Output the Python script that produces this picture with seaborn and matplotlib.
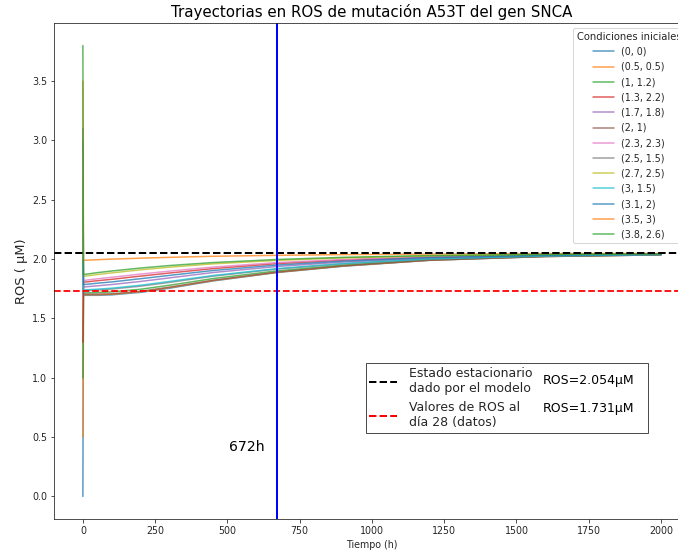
import numpy as np
import pandas as pd
import matplotlib
matplotlib.use("Agg")
import matplotlib.pyplot as plt
from matplotlib.lines import Line2D
import seaborn as sns

# Time grid of the simulated trajectories (hours)
tiempo = [0, 2, 50, 100, 200, 300, 450, 672, 900, 1200, 1600, 2000]

# Initial conditions (legend labels)
condiciones = ["(0, 0)", "(0.5, 0.5)", "(1, 1.2)", "(1.3, 2.2)", "(1.7, 1.8)", "(2, 1)",
               "(2.3, 2.3)", "(2.5, 1.5)", "(2.7, 2.5)", "(3, 1.5)", "(3.1, 2)",
               "(3.5, 3)", "(3.8, 2.6)"]

# ROS trajectories (µM) for each initial condition
ros_0_0 = [0.0, 1.695, 1.695, 1.699, 1.720, 1.755, 1.816, 1.887, 1.940, 1.990, 2.022, 2.036]
ros_05_05 = [0.5, 1.700, 1.700, 1.704, 1.725, 1.760, 1.819, 1.889, 1.942, 1.991, 2.022, 2.036]
ros_1_12 = [1.0, 1.715, 1.718, 1.724, 1.746, 1.780, 1.836, 1.901, 1.950, 1.995, 2.024, 2.037]
ros_13_22 = [1.3, 1.805, 1.818, 1.830, 1.857, 1.883, 1.920, 1.962, 1.991, 2.017, 2.034, 2.042]
ros_17_18 = [1.7, 1.765, 1.775, 1.786, 1.812, 1.842, 1.887, 1.938, 1.975, 2.008, 2.030, 2.040]
ros_2_1 = [2.0, 1.705, 1.705, 1.708, 1.729, 1.764, 1.822, 1.891, 1.943, 1.991, 2.022, 2.036]
ros_23_23 = [2.3, 1.820, 1.834, 1.847, 1.874, 1.899, 1.933, 1.971, 1.997, 2.020, 2.036, 2.043]
ros_25_15 = [2.5, 1.735, 1.740, 1.748, 1.772, 1.804, 1.856, 1.916, 1.960, 2.000, 2.026, 2.038]
ros_27_25 = [2.7, 1.855, 1.870, 1.884, 1.910, 1.932, 1.960, 1.989, 2.010, 2.027, 2.039, 2.045]
ros_3_15 = [3.0, 1.740, 1.747, 1.755, 1.780, 1.812, 1.862, 1.920, 1.963, 2.002, 2.027, 2.039]
ros_31_2 = [3.1, 1.785, 1.797, 1.808, 1.835, 1.863, 1.904, 1.950, 1.983, 2.013, 2.032, 2.041]
ros_35_3 = [3.5, 1.990, 1.995, 2.000, 2.008, 2.015, 2.024, 2.032, 2.038, 2.043, 2.047, 2.048]
ros_38_26 = [3.8, 1.870, 1.886, 1.900, 1.925, 1.946, 1.971, 1.997, 2.015, 2.030, 2.040, 2.045]

trayectorias = [ros_0_0, ros_05_05, ros_1_12, ros_13_22, ros_17_18, ros_2_1, ros_23_23,
                ros_25_15, ros_27_25, ros_3_15, ros_31_2, ros_35_3, ros_38_26]

# Reference levels
ros_estacionario = 2.054
ros_dia28 = 1.731
t_dia28 = 672

df = pd.DataFrame({
    "Tiempo": np.tile(tiempo, len(condiciones)),
    "ROS": np.concatenate(trayectorias),
    "Condición": np.repeat(condiciones, len(tiempo)),
})

sns.set_style("ticks")
plt.rcParams["font.family"] = ["DejaVu Sans"]

base = sns.color_palette("tab10", 10)
paleta = [base[i % 10] for i in range(len(condiciones))]

fig = plt.figure(figsize=(678 / 72, 554 / 72), dpi=72)
ax = fig.add_axes([0.0796, 0.0632, 0.938, 0.8953])

sns.lineplot(data=df, x="Tiempo", y="ROS", hue="Condición", hue_order=condiciones,
             palette=paleta, sort=False, estimator=None, legend=False,
             linewidth=1.5, alpha=0.75, ax=ax)

ax.axhline(ros_estacionario, color="black", linestyle="--", linewidth=2)
ax.axhline(ros_dia28, color="red", linestyle="--", linewidth=1.8)
ax.axvline(t_dia28, color="blue", linewidth=2)
ax.text(630, 0.42, f"{t_dia28}h", ha="right", va="center", fontsize=14, color="black")

ax.set_xlim(-100, 2100)
ax.set_ylim(-0.19, 3.99)
ax.set_xticks([0, 250, 500, 750, 1000, 1250, 1500, 1750, 2000])
ax.set_yticks([0.0, 0.5, 1.0, 1.5, 2.0, 2.5, 3.0, 3.5])
ax.tick_params(labelsize=9.5)
ax.set_xlabel("Tiempo (h)", fontsize=9.5)
ax.set_ylabel("ROS ( μM)", fontsize=13)
ax.set_title("Trayectorias en ROS de mutación A53T del gen SNCA", fontsize=15, color="black")

# Legend of initial conditions
handles = [Line2D([0], [0], color=c, lw=1.5, alpha=0.75) for c in paleta]
leg1 = ax.legend(handles, condiciones, title="Condiciones iniciales", loc="upper right",
                 fontsize=9.5, title_fontsize=10, labelspacing=0.55, handlelength=2.2,
                 frameon=True)
ax.add_artist(leg1)

# Legend of the reference levels; an empty second column leaves room for their values
ref_handles = [Line2D([0], [0], color="black", linestyle="--", lw=2),
               Line2D([0], [0], color="red", linestyle="--", lw=2),
               Line2D([0], [0], linestyle="none"),
               Line2D([0], [0], linestyle="none")]
ref_labels = ["Estado estacionario\ndado por el modelo",
              "Valores de ROS al\ndía 28 (datos)", "", ""]
leg2 = ax.legend(ref_handles, ref_labels, ncol=2, loc="lower right",
                 bbox_to_anchor=(0.934, 0.173), borderaxespad=0, fontsize=12.5,
                 columnspacing=5.7, handlelength=2.2, handletextpad=1.0,
                 borderpad=0.3, fancybox=False, edgecolor="0.3", framealpha=1)

# Values of the reference levels, one per legend row
valores = [f"ROS={ros_estacionario:.3f}μM", f"ROS={ros_dia28:.3f}μM"]
for y, v in zip([0.280, 0.222], valores):
    ax.text(0.769, y, v, transform=ax.transAxes, ha="left", va="center",
            fontsize=12.5, color="black", zorder=10)

fig.savefig("out.png", dpi=72)
